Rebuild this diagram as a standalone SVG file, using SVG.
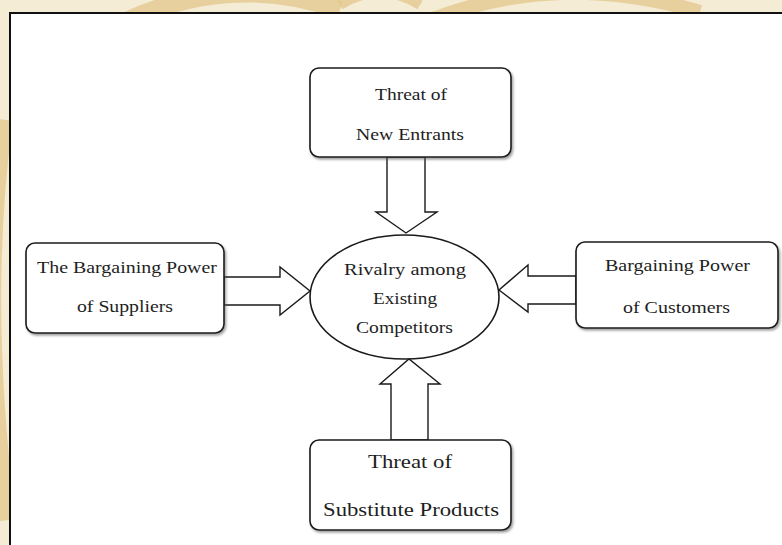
<svg xmlns="http://www.w3.org/2000/svg" width="782" height="545" viewBox="0 0 782 545">
<defs>
<filter id="sh" x="-10%" y="-10%" width="130%" height="140%">
<feDropShadow dx="1.5" dy="2" stdDeviation="1.2" flood-color="#555" flood-opacity="0.55"/>
</filter>
<style>
.box{fill:#fff;stroke:#1a1a1a;stroke-width:1.6;filter:url(#sh)}
.arr{fill:#fff;stroke:#1a1a1a;stroke-width:1.4;stroke-linejoin:miter}
.t{font-family:"Liberation Serif","Times New Roman",serif;fill:#1e1e1e;text-anchor:middle}
.wm{fill:none;stroke:#e2c78a;stroke-opacity:0.75}
</style>
</defs>
<g id="background">
<rect x="0" y="0" width="782" height="545" fill="#f5ecd6"/>
<path class="wm" stroke-width="18" d="M60 60 Q200 -40 340 10"/>
<path class="wm" stroke-width="14" d="M430 20 Q560 -30 700 12"/>
<path class="wm" stroke-width="16" d="M5 120 Q-20 300 8 520"/>
<path class="wm" stroke-width="10" d="M340 5 Q380 -20 420 5"/>
</g>
<rect id="frame" x="10" y="13" width="790" height="560" fill="#fff" stroke="#111" stroke-width="2"/>
<g id="connectors">
<polygon class="arr" points="387,157 387,212 376,212 406,233 437,212 425,212 425,157"/>
<polygon class="arr" points="224,277 280,277 280,267 310,291 280,315 280,305 224,305"/>
<polygon class="arr" points="576,276 528,276 528,265 499,290 528,312 528,304 576,304"/>
<polygon class="arr" points="391,440 391,384 380,384 409,359 440,384 428,384 428,440"/>
</g>
<g id="new-entrants">
<rect class="box" x="310" y="68" width="201" height="89" rx="9"/>
<text class="t" x="411" y="100" font-size="17.5" textLength="72" lengthAdjust="spacingAndGlyphs">Threat of</text>
<text class="t" x="410" y="140" font-size="17.5" textLength="108" lengthAdjust="spacingAndGlyphs">New Entrants</text>
</g>
<g id="suppliers">
<rect class="box" x="26" y="243" width="198" height="90" rx="9"/>
<text class="t" x="127" y="273" font-size="16.5" textLength="180" lengthAdjust="spacingAndGlyphs">The Bargaining Power</text>
<text class="t" x="125" y="312" font-size="16.5" textLength="96" lengthAdjust="spacingAndGlyphs">of Suppliers</text>
</g>
<g id="customers">
<rect class="box" x="576" y="242" width="202" height="86" rx="9"/>
<text class="t" x="677.5" y="271" font-size="17.5" textLength="145" lengthAdjust="spacingAndGlyphs">Bargaining Power</text>
<text class="t" x="676.5" y="313" font-size="17.5" textLength="107" lengthAdjust="spacingAndGlyphs">of Customers</text>
</g>
<g id="substitutes">
<rect class="box" x="310" y="440" width="201" height="90" rx="9"/>
<text class="t" x="410" y="468" font-size="19" textLength="84" lengthAdjust="spacingAndGlyphs">Threat of</text>
<text class="t" x="411" y="516" font-size="19" textLength="176" lengthAdjust="spacingAndGlyphs">Substitute Products</text>
</g>
<g id="rivalry">
<ellipse cx="404.5" cy="297" rx="94.5" ry="62" fill="#fff" stroke="#1a1a1a" stroke-width="1.6"/>
<text class="t" x="405" y="275" font-size="16.5" textLength="122" lengthAdjust="spacingAndGlyphs">Rivalry among</text>
<text class="t" x="405" y="304" font-size="16.5" textLength="64" lengthAdjust="spacingAndGlyphs">Existing</text>
<text class="t" x="404.5" y="333" font-size="16.5" textLength="97" lengthAdjust="spacingAndGlyphs">Competitors</text>
</g>
</svg>
